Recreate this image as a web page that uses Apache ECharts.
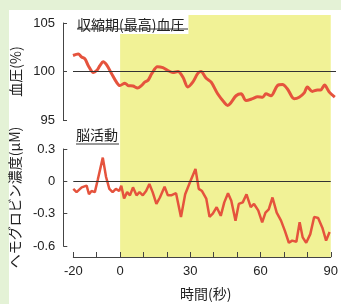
<!DOCTYPE html>
<html>
<head>
<meta charset="utf-8">
<script src="https://cdn.jsdelivr.net/npm/echarts@6/dist/echarts.min.js"></script>
<style>
  html, body { margin: 0; padding: 0; background: #fff; }
  #wrap { position: relative; width: 341px; height: 304px; overflow: hidden; }
  .edge { position: absolute; background: #e4f2d6; }
  #chart { position: absolute; left: 0; top: 0; width: 341px; height: 304px; }
</style>
</head>
<body>
<div id="wrap">
  <div class="edge" style="left:0;top:0;width:9px;height:304px"></div>
  <div class="edge" style="left:0;top:0;width:341px;height:10px"></div>
  <div id="chart"></div>
</div>
<script>
// 収縮期血圧 (%)
const bpTime = [-20, -17.8, -16.4, -15, -13.6, -11.5, -10.1, -8.75, -7.4, -6, -3.9, -1.8, -0.4,
  1.7, 3, 5.1, 7, 8.6, 10, 11.4, 13, 15.3, 17.6, 19.7, 21.8, 23.9, 26, 28, 30.1, 32.2, 33.5,
  35.7, 37.8, 40.5, 43.3, 44.7, 46.1, 48.2, 50.3, 52.4, 55.1, 57.2, 59.3, 60.7, 62.8, 65.5,
  67.6, 69.7, 72.5, 74.6, 76.7, 78, 80.1, 82.2, 83.6, 85.2, 87.1, 89.5];
const bpValue = [101.65, 101.8, 101.5, 101.3, 100.6, 99.9, 100.1, 100.6, 101.0, 100.7, 99.8, 98.9, 98.55,
  98.8, 98.55, 98.5, 98.3, 98.55, 98.9, 99.1, 99.8, 100.5, 100.4, 100.1, 99.9, 100.0, 99.4, 98.4, 98.9, 99.8, 100.0,
  99.3, 98.9, 97.7, 96.8, 96.5, 96.8, 97.5, 97.7, 97.0, 97.2, 97.4, 97.35, 97.7, 97.5, 98.55,
  98.65, 98.2, 97.2, 97.35, 97.8, 98.4, 97.95, 98.1, 98.1, 98.6, 97.9, 97.35];

// ヘモグロビン濃度 (μM)
const hbTime = [-20, -18.6, -16.4, -14.3, -13.3, -12.2, -10.8, -9.5, -7.4, -6, -4.6, -3.2, -1.8, -0.4,
  0.5, 1.7, 3, 4.2, 5.5, 7, 8.3, 9.7, 11.1, 12.5, 13.9, 15.5, 17, 19, 20.4, 21.8, 23.9, 26, 27.8,
  30.1, 32.2, 33.6, 35, 36.8, 38.2, 39.6, 41.25, 43, 44.5, 46.1, 47.5, 49.3, 50.7, 52.4, 54, 55.8,
  57.2, 59, 60.7, 62.1, 63.5, 65.1, 66.9, 68.75, 70.4, 72.1, 73.5, 75.3, 76.7, 78, 79.5, 81.25,
  82.9, 84.6, 86.4, 88, 89.5];
const hbValue = [-0.07, -0.10, -0.056, -0.04, -0.12, -0.09, -0.10, 0.02, 0.22, 0.04, -0.07, -0.10, -0.07, -0.09,
  -0.04, -0.16, -0.10, -0.13, -0.056, -0.13, -0.10, -0.13, -0.09, -0.024, -0.10, -0.21, -0.15, -0.05, -0.13, -0.13, -0.11, -0.33, -0.12,
  0.006, 0.115, -0.07, -0.09, -0.16, -0.33, -0.30, -0.24, -0.32, -0.195, -0.11, -0.18, -0.365, -0.21, -0.195, -0.12, -0.24,
  -0.21, -0.27, -0.38, -0.29, -0.26, -0.15, -0.29, -0.365, -0.46, -0.57, -0.55, -0.56, -0.38, -0.52, -0.57, -0.49,
  -0.33, -0.34, -0.43, -0.55, -0.47];

const xLabels = [-20, 0, 30, 60, 90];
const stimulus = [0, 90];

const ink = "#222";
const axisColor = "#444";
const red = "#e5533d";
const yellow = "#f1f296";
const cjk = "'Noto Sans CJK JP', sans-serif";
const num = "'Liberation Sans', Arial, sans-serif";

const pairs = (xs, ys) => xs.map((x, i) => [x, ys[i]]);

const chart = echarts.init(document.getElementById("chart"), null, { renderer: "canvas" });

const yAxisBase = {
  type: "value",
  offset: 10,
  nameLocation: "middle",
  nameRotate: 90,
  nameGap: 34,
  nameTextStyle: { color: ink, fontFamily: cjk, fontSize: 14 },
  axisLine: { show: true, onZero: false, lineStyle: { color: axisColor, width: 1 } },
  axisTick: { show: true, inside: true, length: 4, lineStyle: { color: axisColor, width: 1 } },
  axisLabel: { color: ink, fontFamily: num, fontSize: 13, margin: 8 },
  splitLine: { show: false },
};

const refLine = (value) => ({
  silent: true,
  symbol: "none",
  label: { show: false },
  lineStyle: { color: "#333", width: 1, type: "solid" },
  data: [{ yAxis: value }],
});

chart.setOption({
  animation: false,
  title: [
    {
      text: "収縮期(最高)血圧",
      left: 73, top: 15,
      padding: [2, 4, 1, 4],
      backgroundColor: "#fff",
      textStyle: { color: ink, fontFamily: cjk, fontSize: 14, fontWeight: "normal", lineHeight: 16 },
    },
    {
      text: "脳活動",
      left: 72, top: 126,
      padding: [1, 4, 1, 4],
      textStyle: { color: ink, fontFamily: cjk, fontSize: 14, fontWeight: "normal", lineHeight: 16 },
    },
    {
      text: "時間(秒)",
      left: 180, top: 286,
      padding: 0,
      textStyle: { color: ink, fontFamily: cjk, fontSize: 14, fontWeight: "normal", lineHeight: 16 },
    },
  ],
  grid: [
    { left: 73, right: 5, top: 23, height: 97 },
    { left: 73, right: 5, top: 149, height: 97 },
  ],
  xAxis: [
    {
      gridIndex: 0,
      type: "value",
      min: -20,
      max: 90,
      axisLine: { show: false },
      axisTick: { show: false },
      axisLabel: { show: false },
      splitLine: { show: false },
    },
    {
      gridIndex: 1,
      type: "value",
      min: -20,
      max: 90,
      interval: 10,
      offset: 11,
      axisLine: { show: true, onZero: false, lineStyle: { color: axisColor, width: 1 } },
      axisTick: { show: true, inside: true, length: 5, lineStyle: { color: axisColor, width: 1 } },
      axisLabel: {
        color: ink,
        fontFamily: num,
        fontSize: 13,
        margin: 8,
        formatter: (v) => (xLabels.includes(v) ? String(v) : ""),
      },
      splitLine: { show: false },
    },
  ],
  yAxis: [
    Object.assign({}, yAxisBase, { gridIndex: 0, min: 95, max: 105, interval: 5, name: "血圧(%)" }),
    Object.assign({}, yAxisBase, {
      gridIndex: 1, min: -0.6, max: 0.3, interval: 0.3, name: "ヘモグロビン濃度(μM)",
      axisLabel: Object.assign({}, yAxisBase.axisLabel, {
        formatter: (v) => String(Math.round(v * 10) / 10),
      }),
    }),
  ],
  series: [
    {
      name: "収縮期血圧",
      type: "line",
      xAxisIndex: 0,
      yAxisIndex: 0,
      data: pairs(bpTime, bpValue),
      showSymbol: false,
      smooth: 0.3,
      lineStyle: { color: red, width: 3 },
      markLine: refLine(100),
    },
    {
      name: "脳活動",
      type: "line",
      xAxisIndex: 1,
      yAxisIndex: 1,
      data: pairs(hbTime, hbValue),
      showSymbol: false,
      lineStyle: { color: red, width: 2.5 },
      markLine: refLine(0),
    },
  ],
});

// yellow stimulus band spans both panels, placed through the x scale
const bandLeft = chart.convertToPixel({ xAxisIndex: 1 }, stimulus[0]);
const bandRight = chart.convertToPixel({ xAxisIndex: 1 }, stimulus[1]);
const bandTop = chart.convertToPixel({ yAxisIndex: 0 }, 105) - 8;
const bandBottom = chart.convertToPixel({ yAxisIndex: 1 }, -0.6) + 11;

chart.setOption({
  graphic: [
    {
      type: "rect",
      z: -1,
      silent: true,
      shape: { x: bandLeft, y: bandTop, width: bandRight - bandLeft, height: bandBottom - bandTop },
      style: { fill: yellow },
    },
    { type: "line", z: 10, shape: { x1: 77, y1: 29, x2: 188, y2: 29 }, style: { stroke: "#333", lineWidth: 1 } },
    { type: "line", z: 10, shape: { x1: 76, y1: 144, x2: 119, y2: 144 }, style: { stroke: "#333", lineWidth: 1 } },
  ],
});
</script>
</body>
</html>
